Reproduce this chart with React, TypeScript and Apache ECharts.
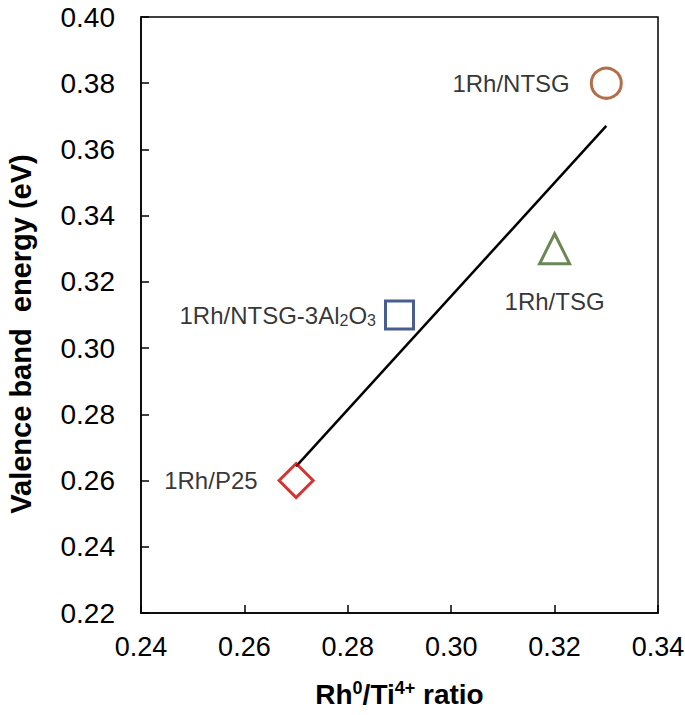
import React, { useEffect, useRef } from "react";
import * as echarts from "echarts";

const sampleNames = ["1Rh/P25", "1Rh/NTSG-3Al2O3", "1Rh/TSG", "1Rh/NTSG"];
const ratioValues = [0.27, 0.29, 0.32, 0.33];
const energyValues = [0.26, 0.31, 0.33, 0.38];
const fitLineX = [0.27, 0.33];
const fitLineY = [0.2643, 0.3671];
const xTicks = [0.24, 0.26, 0.28, 0.3, 0.32, 0.34];
const yTicks = [0.22, 0.24, 0.26, 0.28, 0.3, 0.32, 0.34, 0.36, 0.38, 0.4];

const symbols = ["diamond", "rect", "triangle", "circle"];
const colors = ["#CC0000", "#1A3575", "#45692A", "#A04A1A"];
const symbolSizes = [34, 28, 30, 30];
const labelPos = ["left", "left", "bottom", "left"];
const labelDist = [20, 8, 24, 20];

const FONT = "'Liberation Sans', Arial, sans-serif";

export default function App() {
  const ref = useRef<HTMLDivElement>(null);
  useEffect(() => {
    if (!ref.current) return;
    const chart = echarts.init(ref.current, undefined, { renderer: "svg" });
    const scatterData = sampleNames.map((name, i) => ({
      name,
      value: [ratioValues[i], energyValues[i]],
      symbol: symbols[i],
      symbolSize: symbolSizes[i],
      itemStyle: { color: "transparent", borderColor: colors[i], borderWidth: 3 },
      label: { position: labelPos[i], distance: labelDist[i] },
    }));
    chart.setOption({
      animation: false,
      grid: {
        left: 141,
        right: 27,
        top: 17,
        bottom: 102,
        containLabel: false,
        outerBoundsMode: "none",
        show: true,
        borderColor: "#000",
        borderWidth: 1.5,
      },
      xAxis: {
        type: "value",
        min: xTicks[0],
        max: xTicks[xTicks.length - 1],
        interval: 0.02,
        splitLine: { show: false },
        axisLine: { lineStyle: { color: "#000", width: 1.5 } },
        axisTick: { inside: true, length: 8, lineStyle: { color: "#000", width: 1.5 } },
        axisLabel: { color: "#000", fontSize: 27, fontFamily: FONT, margin: 20, formatter: (v: number) => v.toFixed(2) },
        name: "{b|Rh}{sup|0}{b|/Ti}{sup|4+}{b| ratio}",
        nameLocation: "middle",
        nameGap: 66,
        nameTextStyle: {
          rich: {
            b: { fontSize: 28, fontWeight: "bold", fontFamily: FONT, color: "#000" },
            sup: { fontSize: 18, fontWeight: "bold", fontFamily: FONT, color: "#000", padding: [0, 0, 12, 0] },
          },
        },
      },
      yAxis: {
        type: "value",
        min: yTicks[0],
        max: yTicks[yTicks.length - 1],
        interval: 0.02,
        splitLine: { show: false },
        axisLine: { lineStyle: { color: "#000", width: 1.5 } },
        axisTick: { inside: true, length: 8, lineStyle: { color: "#000", width: 1.5 } },
        axisLabel: { color: "#000", fontSize: 28, fontFamily: FONT, margin: 26, formatter: (v: number) => v.toFixed(2) },
        name: "Valence band  energy (eV)",
        nameLocation: "middle",
        nameGap: 106,
        nameTextStyle: { fontSize: 29, fontWeight: "bold", fontFamily: FONT, color: "#000", padding: [0, 38, 0, 0] },
      },
      series: [
        {
          type: "line",
          data: fitLineX.map((x, i) => [x, fitLineY[i]]),
          symbol: "none",
          lineStyle: { color: "#000", width: 2.5 },
          z: 1,
        },
        {
          type: "scatter",
          data: scatterData,
          z: 3,
          label: {
            show: true,
            color: "#000",
            fontSize: 24,
            fontFamily: FONT,
            formatter: (p: any) =>
              p.name === "1Rh/NTSG-3Al2O3" ? "{n|1Rh/NTSG-3Al}{s|2}{n|O}{s|3}" : "{n|" + p.name + "}",
            rich: {
              n: { fontSize: 24, fontFamily: FONT, color: "#000" },
              s: { fontSize: 16, fontFamily: FONT, color: "#000", padding: [11, 0, 0, 0] },
            },
          },
        },
      ],
    });
    return () => chart.dispose();
  }, []);
  return <div ref={ref} style={{ position: "absolute", left: 0, top: 0, width: 685, height: 715 }} />;
}
